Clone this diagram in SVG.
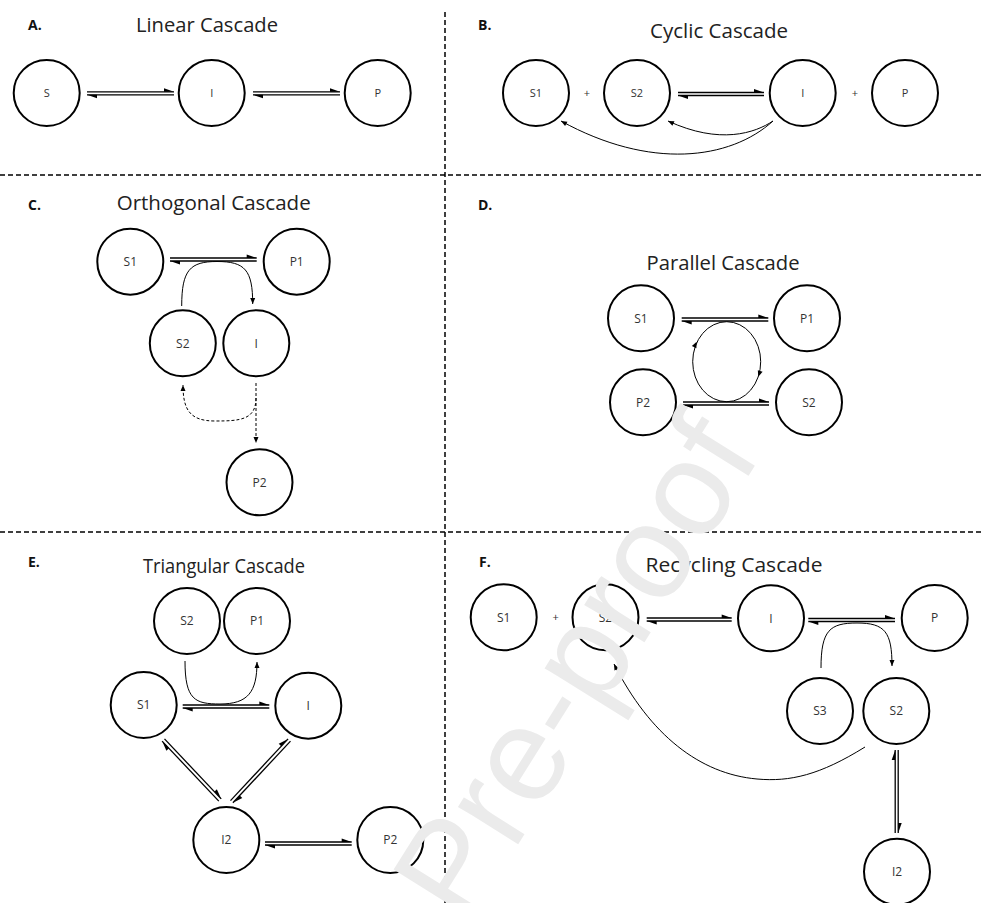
<svg xmlns="http://www.w3.org/2000/svg" width="984" height="903" viewBox="0 0 984 903">
<style>
.bg{fill:#fff}
.node circle{fill:#fff;stroke:#000;stroke-width:2}
.lbl{font-family:"Open Sans","Liberation Sans",sans-serif;font-size:12px;fill:#333;text-anchor:middle}
.lblA{font-size:11px}
.title{font-family:"Open Sans","Liberation Sans",sans-serif;font-size:20px;fill:#222;text-anchor:middle}
.panel{font-family:"Open Sans","Liberation Sans",sans-serif;font-size:14px;font-weight:bold;fill:#111}
.plus{font-family:"Open Sans","Liberation Sans",sans-serif;font-size:11px;fill:#333;text-anchor:middle}
.div{stroke:#000;stroke-width:1.5;stroke-dasharray:5 3;fill:none}
.eq{stroke:#000;stroke-width:1.3;fill:none;marker-end:url(#harp)}
.cv{stroke:#000;stroke-width:1;fill:none;marker-end:url(#head)}
.dash{stroke-dasharray:3 2}
.wm{font-family:"Liberation Sans",Arial,sans-serif;font-size:134px;fill:#ebebeb}
</style>
<defs>
<marker id="harp" markerUnits="userSpaceOnUse" markerWidth="12" markerHeight="12" viewBox="-11 -6 12 12" refX="0" refY="0" orient="auto" overflow="visible"><path d="M0,0 L-10,-3.5 L-10,0 Z" fill="#000"/></marker>
<marker id="head" markerUnits="userSpaceOnUse" markerWidth="8" markerHeight="8" viewBox="-7 -4 8 8" refX="0" refY="0" orient="auto" overflow="visible"><path d="M0,0 L-6,-2.5 L-6,2.5 Z" fill="#000"/></marker>
</defs>
<rect class="bg" x="0" y="0" width="984" height="903"/>

<g id="dividers">
<line class="div" x1="445" y1="12" x2="445" y2="903"/>
<line class="div" x1="0" y1="175" x2="984" y2="175"/>
<line class="div" x1="0" y1="532" x2="984" y2="532"/>
</g>

<g id="labels">
<text class="panel" x="28" y="29.5">A.</text>
<text class="panel" x="478" y="29.5">B.</text>
<text class="panel" x="28" y="210">C.</text>
<text class="panel" x="478" y="210">D.</text>
<text class="panel" x="28" y="567">E.</text>
<text class="panel" x="479" y="567">F.</text>
<text class="title" x="207" y="32" textLength="142" lengthAdjust="spacingAndGlyphs">Linear Cascade</text>
<text class="title" x="719" y="38" textLength="138" lengthAdjust="spacingAndGlyphs">Cyclic Cascade</text>
<text class="title" x="213.7" y="209.5" font-size="21" textLength="194" lengthAdjust="spacingAndGlyphs">Orthogonal Cascade</text>
<text class="title" x="723" y="270" textLength="153" lengthAdjust="spacingAndGlyphs">Parallel Cascade</text>
<text class="title" x="224" y="572.7" textLength="162" lengthAdjust="spacingAndGlyphs">Triangular Cascade</text>
<text class="title" x="734" y="571.7" textLength="177" lengthAdjust="spacingAndGlyphs">Recycling Cascade</text>
<text class="plus" x="587" y="97">+</text>
<text class="plus" x="855" y="97">+</text>
<text class="plus" x="555.7" y="621">+</text>
</g>

<g id="connectors">
<!-- A -->
<path class="eq" d="M87,91.8 L174,91.8"/><path class="eq" d="M174,94.8 L87,94.8"/>
<path class="eq" d="M253,91.8 L340,91.8"/><path class="eq" d="M340,94.8 L253,94.8"/>
<!-- B -->
<path class="eq" d="M678,92.5 L764,92.5"/><path class="eq" d="M764,95.5 L678,95.5"/>
<path class="cv" d="M773,121 C755,133 720,145 668,121"/>
<path class="cv" d="M773,121 C730,160 650,170 561,121"/>
<!-- C -->
<path class="eq" d="M170,258 L256.7,258"/><path class="eq" d="M256.7,261 L170,261"/>
<path class="cv" d="M181.7,306 C181.7,270 190,261.5 217,261.5 C245,261.5 252.7,270 252.7,304"/>
<path class="cv dash" d="M256,383 L256,443"/>
<path class="cv dash" d="M256,398 C256,420 240,421 215,421 C190,421 183,410 183,385"/>
<!-- D -->
<path class="eq" d="M681.7,318 L768.3,318"/><path class="eq" d="M768.3,321 L681.7,321"/>
<path class="eq" d="M683,402 L769,402"/><path class="eq" d="M769,405 L683,405"/>
<ellipse cx="726.7" cy="361.7" rx="34" ry="40" fill="none" stroke="#000" stroke-width="1"/>
<polygon points="696.7,341.7 696.35,348.2 691.85,346" fill="#000"/>
<polygon points="758.3,376.7 762.6,371.8 757.8,370.2" fill="#000"/>
<!-- E -->
<path class="eq" d="M182.7,705 L269.3,705"/><path class="eq" d="M269.3,708 L182.7,708"/>
<path class="cv" d="M185,661 C185,700 195,704 220,704 C248,704 257,692 257,662"/>
<path class="eq" d="M164.5,738.9 L221.2,798.9"/><path class="eq" d="M218.8,801.1 L162.1,741.1"/>
<path class="eq" d="M290.5,741.1 L232.9,802.8"/><path class="eq" d="M230.5,800.6 L288.1,738.9"/>
<path class="eq" d="M265,842 L351.7,842"/><path class="eq" d="M351.7,845 L265,845"/>
<!-- F -->
<path class="eq" d="M646.7,618 L731.7,618"/><path class="eq" d="M731.7,621 L646.7,621"/>
<path class="eq" d="M808.3,618.5 L895,618.5"/><path class="eq" d="M895,621.5 L808.3,621.5"/>
<path class="cv" d="M821,668 C821,630 830,623 857,623 C885,623 892,632 892,666"/>
<path class="cv" d="M865,747 C820,775 790,782 757,779 C700,774 650,735 614,664"/>
<path class="eq" d="M898.2,750 L898.2,833"/><path class="eq" d="M895.2,833 L895.2,750"/>
</g>

<g id="nodeA_S" class="node"><circle cx="46.7" cy="93" r="33"/><text class="lbl lblA" x="46.7" y="97">S</text></g>
<g id="nodeA_I" class="node"><circle cx="211.7" cy="93" r="33"/><text class="lbl lblA" x="211.7" y="97">I</text></g>
<g id="nodeA_P" class="node"><circle cx="377.7" cy="93" r="33"/><text class="lbl lblA" x="377.7" y="97">P</text></g>

<g id="nodeB_S1" class="node"><circle cx="536" cy="93" r="33"/><text class="lbl lblA" x="536" y="97">S1</text></g>
<g id="nodeB_S2" class="node"><circle cx="637" cy="93" r="33"/><text class="lbl lblA" x="637" y="97">S2</text></g>
<g id="nodeB_I" class="node"><circle cx="802.7" cy="93" r="33"/><text class="lbl lblA" x="802.7" y="97">I</text></g>
<g id="nodeB_P" class="node"><circle cx="905" cy="93" r="33"/><text class="lbl lblA" x="905" y="97">P</text></g>

<g id="nodeC_S1" class="node"><circle cx="130.3" cy="261.7" r="33"/><text class="lbl" x="130.3" y="266">S1</text></g>
<g id="nodeC_P1" class="node"><circle cx="296.7" cy="261.7" r="33"/><text class="lbl" x="296.7" y="266">P1</text></g>
<g id="nodeC_S2" class="node"><circle cx="182.8" cy="343.3" r="33"/><text class="lbl" x="182.8" y="347.5">S2</text></g>
<g id="nodeC_I" class="node"><circle cx="256.3" cy="343.3" r="33"/><text class="lbl" x="256.3" y="347.5">I</text></g>
<g id="nodeC_P2" class="node"><circle cx="259.5" cy="482.3" r="33"/><text class="lbl" x="259.5" y="486.5">P2</text></g>

<g id="nodeD_S1" class="node"><circle cx="641" cy="318.3" r="33"/><text class="lbl" x="641" y="322.5">S1</text></g>
<g id="nodeD_P1" class="node"><circle cx="807" cy="318.3" r="33"/><text class="lbl" x="807" y="322.5">P1</text></g>
<g id="nodeD_P2" class="node"><circle cx="643" cy="402.3" r="33"/><text class="lbl" x="643" y="406.5">P2</text></g>
<g id="nodeD_S2" class="node"><circle cx="809" cy="402.3" r="33"/><text class="lbl" x="809" y="406.5">S2</text></g>

<g id="nodeE_S2" class="node"><circle cx="187" cy="621" r="33"/><text class="lbl" x="187" y="625.3">S2</text></g>
<g id="nodeE_P1" class="node"><circle cx="257" cy="621" r="33"/><text class="lbl" x="257" y="625.3">P1</text></g>
<g id="nodeE_S1" class="node"><circle cx="143.7" cy="705" r="33"/><text class="lbl" x="143.7" y="709.3">S1</text></g>
<g id="nodeE_I" class="node"><circle cx="308.3" cy="705.7" r="33"/><text class="lbl" x="308.3" y="710">I</text></g>
<g id="nodeE_I2" class="node"><circle cx="226.3" cy="840" r="33"/><text class="lbl" x="226.3" y="844.3">I2</text></g>
<g id="nodeE_P2" class="node"><circle cx="390.3" cy="840" r="33"/><text class="lbl" x="390.3" y="844.3">P2</text></g>

<g id="nodeF_S1" class="node"><circle cx="503.7" cy="617.3" r="33"/><text class="lbl" x="503.7" y="621.5">S1</text></g>
<g id="nodeF_S2a" class="node"><circle cx="605.5" cy="617.3" r="33"/><text class="lbl" x="605.5" y="621.5">S2</text></g>
<g id="nodeF_I" class="node"><circle cx="771" cy="618.3" r="33"/><text class="lbl" x="771" y="622.5">I</text></g>
<g id="nodeF_P" class="node"><circle cx="934.7" cy="618" r="33"/><text class="lbl" x="934.7" y="622.3">P</text></g>
<g id="nodeF_S3" class="node"><circle cx="820" cy="711" r="33"/><text class="lbl" x="820" y="715.3">S3</text></g>
<g id="nodeF_S2b" class="node"><circle cx="896.3" cy="711" r="33"/><text class="lbl" x="896.3" y="715.3">S2</text></g>
<g id="nodeF_I2" class="node"><circle cx="897" cy="871.7" r="33"/><text class="lbl" x="897" y="876">I2</text></g>

<g id="watermark" transform="rotate(-4 600 690)">
<text class="wm" x="778" y="466" text-anchor="end" transform="rotate(-54 778 466)">Journal Pre-proof</text>
</g>
</svg>
